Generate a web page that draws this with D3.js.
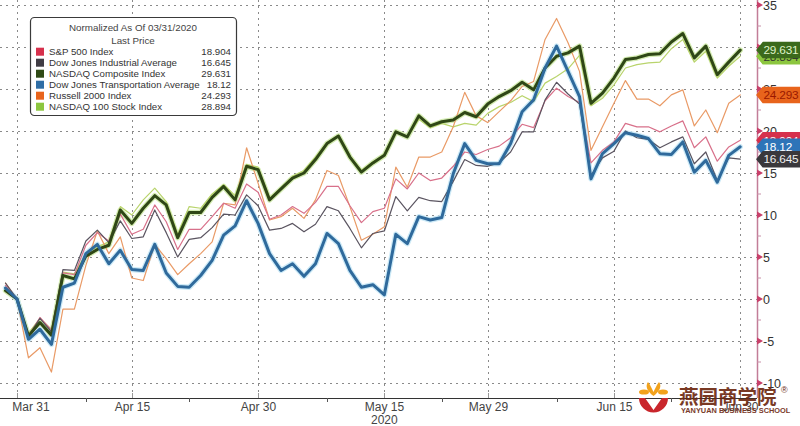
<!DOCTYPE html>
<html><head><meta charset="utf-8">
<script src="https://cdn.jsdelivr.net/npm/d3@7"></script>
<style>
body{margin:0;background:#fff;}
svg{display:block;font-family:"Liberation Sans",Arial,sans-serif;}
</style>
</head><body>
<svg id="chart" width="800" height="426"></svg>
<script>
// ---------- DATA ----------
const dates = ["2020-03-30","2020-03-31","2020-04-01","2020-04-02","2020-04-03","2020-04-06","2020-04-07","2020-04-08","2020-04-09","2020-04-13","2020-04-14","2020-04-15","2020-04-16","2020-04-17","2020-04-20","2020-04-21","2020-04-22","2020-04-23","2020-04-24","2020-04-27","2020-04-28","2020-04-29","2020-04-30","2020-05-01","2020-05-04","2020-05-05","2020-05-06","2020-05-07","2020-05-08","2020-05-11","2020-05-12","2020-05-13","2020-05-14","2020-05-15","2020-05-18","2020-05-19","2020-05-20","2020-05-21","2020-05-22","2020-05-26","2020-05-27","2020-05-28","2020-05-29","2020-06-01","2020-06-02","2020-06-03","2020-06-04","2020-06-05","2020-06-08","2020-06-09","2020-06-10","2020-06-11","2020-06-12","2020-06-15","2020-06-16","2020-06-17","2020-06-18","2020-06-19","2020-06-22","2020-06-23","2020-06-24","2020-06-25","2020-06-26","2020-06-29","2020-06-30"];

const spx  = [1.6,0,-4.4,-2.2,-3.7,3.1,2.9,6.4,7.9,6.9,10.1,7.7,8.3,11.2,9.2,5.9,8.3,8.3,9.8,11.4,10.8,13.7,12.7,9.5,10.0,11.0,10.2,11.5,13.4,13.4,11.1,9.1,10.4,10.8,14.3,13.1,15.0,14.1,14.4,15.8,17.5,17.2,17.8,18.2,19.2,20.8,20.4,23.6,25.1,24.1,23.4,16.2,17.7,18.7,20.9,20.5,20.5,19.9,20.6,21.2,18.0,19.3,16.4,18.1,18.904];
const indu = [1.9,0,-4.4,-2.3,-3.9,3.5,3.4,6.9,8.2,6.7,9.3,7.2,7.4,10.6,7.9,5.0,7.1,7.3,8.5,10.1,10.0,12.4,11.1,8.2,8.4,9.0,8.0,8.9,11.0,10.5,8.4,6.1,7.8,8.1,12.2,10.5,12.1,11.7,11.6,14.0,16.6,15.9,15.8,16.2,17.5,19.9,19.9,23.7,25.8,24.4,23.2,14.7,16.8,17.6,20.0,19.2,19.0,18.0,18.7,19.3,16.1,17.5,14.1,16.8,16.645];
const ccmp = [1.0,0,-4.4,-2.8,-4.3,2.8,2.4,5.1,5.9,6.4,10.6,9.0,10.8,12.3,11.2,7.3,10.3,10.3,12.1,13.4,11.8,15.8,15.4,11.8,13.1,14.4,15.0,16.6,18.5,19.4,16.9,15.1,16.2,17.1,19.9,19.3,21.8,20.6,21.1,21.3,22.2,21.7,23.2,24.1,24.8,25.8,24.9,27.5,28.9,29.3,30.1,23.3,24.5,26.3,28.5,28.7,29.1,29.2,30.6,31.6,28.7,30.1,26.7,28.2,29.631];
const tran = [1.3,0,-4.8,-3.6,-5.4,1.4,1.9,5.4,6.5,4.2,5.8,3.5,3.4,6.5,3.1,1.5,1.4,2.8,4.6,7.6,8.7,11.7,9.0,5.4,3.4,4.2,2.7,4.2,7.8,6.6,3.4,1.4,1.7,0.5,7.7,6.6,9.8,9.4,9.7,14.9,18.5,16.5,16.1,16.1,18.5,22.3,23.7,27.5,30.1,27.1,24.1,14.3,17.3,18.5,19.8,19.5,19.1,17.3,17.2,18.7,15.1,16.5,13.9,17.1,18.12];
const rty  = [1.9,0,-7.0,-5.8,-8.7,-1.2,-1.2,4.0,8.1,5.4,7.4,2.5,2.2,6.5,4.8,2.9,4.2,5.4,6.8,11.4,11.2,18.0,13.8,9.4,9.8,10.8,9.6,11.8,15.3,14.7,11.0,7.0,7.7,8.6,15.7,13.3,16.9,16.9,17.5,20.5,24.6,21.8,21.0,22.3,23.6,25.3,25.9,30.9,33.4,30.5,27.1,17.7,20.5,23.3,26.0,23.8,23.8,23.0,24.3,24.9,20.6,22.5,19.8,23.3,24.293];
const ndx  = [1.0,0,-4.1,-2.3,-3.6,3.2,3.0,5.4,6.2,6.8,11.0,10.0,11.8,13.2,11.6,7.7,11.0,10.8,12.5,13.6,12.3,16.0,15.7,12.0,13.2,14.6,15.3,16.9,18.6,19.5,17.0,15.3,16.3,17.1,20.0,19.3,21.4,20.4,20.9,20.5,20.9,20.7,22.1,22.9,23.4,24.2,23.5,25.7,26.5,27.4,29.0,23.0,23.9,25.5,27.5,27.9,28.1,28.2,29.8,30.9,28.2,29.5,26.3,27.7,28.894];

const seriesNames = ["S&P 500 Index","Dow Jones Industrial Average","NASDAQ Composite Index","Dow Jones Transportation Average","Russell 2000 Index","NASDAQ 100 Stock Index"];
const lastPrices  = ["18.904","16.645","29.631","18.12","24.293","28.894"];
const legendTitle = ["Normalized As Of 03/31/2020","Last Price"];
const xTickDates  = ["2020-03-31","2020-04-15","2020-04-30","2020-05-15","2020-05-29","2020-06-15","2020-06-30"];
const xMinorDates = ["2020-04-08","2020-04-22","2020-05-08","2020-05-22","2020-06-08","2020-06-22"];
const yearLabel   = "2020";
const yTicks      = [-10,-5,0,5,10,15,20,25,30,35];

// ---------- STYLE ----------
const styles = [
  {vals: spx,  swatch:"#d6304c", stroke:"#d8708a", w:1.2, tagBg:"#d6304c", tagFg:"#ffffff"},
  {vals: indu, swatch:"#403c44", stroke:"#5a5460", w:1.2, tagBg:"#3a383c", tagFg:"#f0f0f0"},
  {vals: ccmp, swatch:"#2f4a16", stroke:"#2f4716", w:3.0, halo:"#d4ecb2", tagBg:"#3b6a1c", tagFg:"#dff3c8"},
  {vals: tran, swatch:"#2f6ea6", stroke:"#2f6a9c", w:3.0, halo:"#cdeaf7", tagBg:"#2e74b8", tagFg:"#ffffff"},
  {vals: rty,  swatch:"#e8641c", stroke:"#e99a66", w:1.2, tagBg:"#e8641c", tagFg:"#9a1800"},
  {vals: ndx,  swatch:"#8cc63f", stroke:"#b9d46c", w:1.2, tagBg:"#8cc63f", tagFg:"#333333"}
];

const svg = d3.select("#chart");
const axisX = 757, baseY = 398;
const parse = d3.timeParse("%Y-%m-%d");
const fmt = d3.timeFormat("%b %d");

const x = d3.scaleLinear().domain([-0.48, 65.46]).range([0, axisX]);
const y = d3.scaleLinear().domain([-10, 35]).range([383, 5]);

// grid
const grid = svg.append("g").attr("stroke","#8a8a8a").attr("stroke-dasharray","2,4").attr("stroke-width",1);
yTicks.forEach(t => grid.append("line").attr("x1",0).attr("x2",axisX).attr("y1",Math.round(y(t))+0.5).attr("y2",Math.round(y(t))+0.5));
xTickDates.forEach(d => {
  const xx = Math.round(x(dates.indexOf(d)))+0.5;
  grid.append("line").attr("x1",xx).attr("x2",xx).attr("y1",0).attr("y2",baseY);
});

// lines
const line = d3.line().x((d,i)=>x(i)).y(d=>y(d)).curve(d3.curveLinear);
const drawOrder = [5,4,0,1,2,3];
const lg = svg.append("g").attr("fill","none").attr("stroke-linejoin","round").attr("stroke-linecap","round");
[2,3].forEach(k => lg.append("path").attr("d", line(styles[k].vals)).attr("stroke", styles[k].halo).attr("stroke-width", 5.5));
drawOrder.forEach(k => lg.append("path").attr("d", line(styles[k].vals)).attr("stroke", styles[k].stroke).attr("stroke-width", styles[k].w));

// bottom axis
const bx = svg.append("g");
bx.append("line").attr("x1",0).attr("x2",axisX).attr("y1",baseY+0.5).attr("y2",baseY+0.5).attr("stroke","#333").attr("stroke-width",1.2);
xTickDates.forEach(d => {
  const xx = Math.round(x(dates.indexOf(d)))+0.5;
  bx.append("line").attr("x1",xx).attr("x2",xx).attr("y1",baseY-5).attr("y2",baseY).attr("stroke","#999");
  const lx = Math.max(xx, 31);
  bx.append("text").attr("x",lx).attr("y",411).attr("text-anchor","middle").attr("font-size",12).attr("fill","#444").text(fmt(parse(d)));
});
xMinorDates.forEach(d => {
  const xx = Math.round(x(dates.indexOf(d)))+0.5;
  bx.append("line").attr("x1",xx).attr("x2",xx).attr("y1",baseY).attr("y2",baseY+4).attr("stroke","#555");
});
bx.append("text").attr("x",x(dates.indexOf("2020-05-15"))).attr("y",424).attr("text-anchor","middle").attr("font-size",12).attr("fill","#444").text(yearLabel);

// right axis
const ry = svg.append("g");
ry.append("line").attr("x1",axisX+0.5).attr("x2",axisX+0.5).attr("y1",0).attr("y2",baseY).attr("stroke","#c27d98").attr("stroke-width",1.5);
yTicks.forEach(t => {
  const yy = y(t);
  if (t < 35) ry.append("line").attr("x1",axisX).attr("x2",axisX+4).attr("y1",y(t+2.5)).attr("y2",y(t+2.5)).attr("stroke","#c890a8");
  ry.append("path").attr("d",`M${axisX},${yy-3.5}L${axisX+6},${yy}L${axisX},${yy+3.5}Z`).attr("fill","#c8406a");
  ry.append("text").attr("x",axisX+6).attr("y",yy+4.6).attr("font-size",12.5).attr("fill","#333").text(t);
});

// value tags
const tagOrder = [5,2,4,0,3,1];
const tg = svg.append("g");
tagOrder.forEach(k => {
  const cy = y(+lastPrices[k]);
  const h = 7.5;
  tg.append("path").attr("d",`M${axisX},${cy}L${axisX+6},${cy-h}L${800},${cy-h}L${800},${cy+h}L${axisX+6},${cy+h}Z`)
    .attr("fill",styles[k].tagBg).attr("stroke",styles[k].tagBg).attr("stroke-linejoin","round").attr("stroke-width",1.5);
  tg.append("text").attr("x",763.5).attr("y",cy+4.3).attr("font-size",11.8).attr("letter-spacing",-0.2).attr("fill",styles[k].tagFg).text(lastPrices[k]);
});

// legend
const L = svg.append("g");
L.append("rect").attr("x",30.5).attr("y",17.5).attr("width",206).attr("height",98).attr("rx",4)
  .attr("fill","#fff").attr("stroke","#3a3a3a").attr("stroke-width",1.2);
L.append("text").attr("x",133).attr("y",31).attr("text-anchor","middle").attr("font-size",9.8).attr("fill","#444").text(legendTitle[0]);
L.append("text").attr("x",133).attr("y",43.5).attr("text-anchor","middle").attr("font-size",9.8).attr("fill","#444").text(legendTitle[1]);
seriesNames.forEach((n,k) => {
  const cy = 51.7 + 11*k;
  L.append("rect").attr("x",36).attr("y",cy-4).attr("width",8).attr("height",8).attr("fill",styles[k].swatch);
  L.append("text").attr("x",49).attr("y",cy+3.5).attr("font-size",9.7).attr("fill","#333").text(n);
  L.append("text").attr("x",231).attr("y",cy+3.5).attr("text-anchor","end").attr("font-size",9.7).attr("fill","#333").text(lastPrices[k]);
});

// watermark logo
const W = svg.append("g");
W.append("path").attr("d","M639,398 A14.5,14.5 0 0 0 668,398 L662,398 L653.5,410 L645,398 Z").attr("fill","#c9262c");
W.append("path").attr("d","M653.5,396 C647,391 645,386 648,382 C651,386 652,389 653.5,392 C655,389 656,386 659,382 C662,386 660,391 653.5,396 Z").attr("fill","#f2a21c");
W.append("ellipse").attr("cx",644).attr("cy",392).attr("rx",5).attr("ry",2.6).attr("fill","#f2a21c");
W.append("ellipse").attr("cx",663).attr("cy",392).attr("rx",5).attr("ry",2.6).attr("fill","#f2a21c");
W.append("text").attr("x",679).attr("y",404).attr("font-family","'Noto Sans CJK SC'").attr("font-weight","bold").attr("font-size",19.5).attr("fill","#6e2a12").attr("opacity",0.92).text("燕园商学院");
W.append("text").attr("x",781).attr("y",393).attr("font-size",9).attr("fill","#6e2a12").text("®");
W.append("text").attr("x",681).attr("y",413).attr("font-size",7.4).attr("font-weight","bold").attr("fill","#6e2a12").attr("opacity",0.92).text("YANYUAN BUSINESS SCHOOL");
</script>
</body></html>
